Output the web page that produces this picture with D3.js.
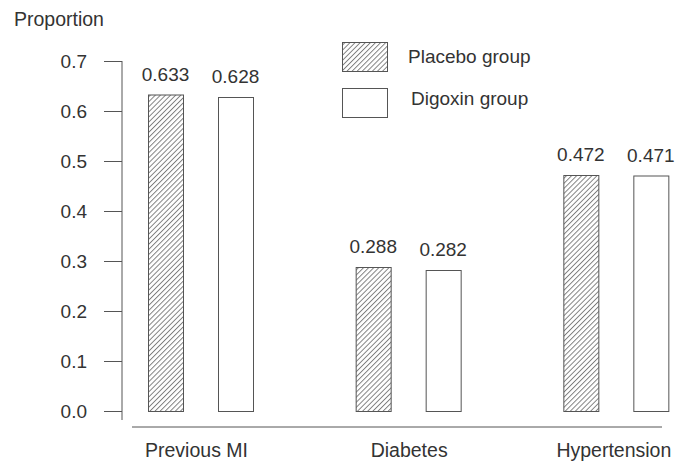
<!DOCTYPE html>
<html><head><meta charset="utf-8">
<script src="https://cdn.jsdelivr.net/npm/d3@7"></script>
<style>body{margin:0;background:#fff}svg{display:block}text{font-family:"Liberation Sans",Arial,sans-serif;fill:#333}</style>
</head><body><svg id="c" width="676" height="462"></svg>
<script>
const categories = ["Previous MI", "Diabetes", "Hypertension"];
const seriesNames = ["Placebo group", "Digoxin group"];
const placebo = [0.633, 0.288, 0.472];
const digoxin = [0.628, 0.282, 0.471];
const yTicks = [0.0, 0.1, 0.2, 0.3, 0.4, 0.5, 0.6, 0.7];

const FS = 19;
const svg = d3.select("#c");
const defs = svg.append("defs");
const ps = 3.6;
const pat = defs.append("pattern").attr("id","hatch").attr("patternUnits","userSpaceOnUse")
  .attr("width",ps).attr("height",ps).attr("patternTransform","rotate(45)");
pat.append("rect").attr("width",ps).attr("height",ps).attr("fill","#fff");
pat.append("line").attr("x1",0.5).attr("y1",0).attr("x2",0.5).attr("y2",ps).attr("stroke","#777").attr("stroke-width",0.9);

const y = d3.scaleLinear().domain([0,0.7]).range([411,61]);
const x0 = d3.scaleBand().domain(categories).range([96,719]).paddingInner(0).paddingOuter(0);
const x1 = d3.scaleBand().domain(seriesNames).range([0, 105]).paddingInner(0.5);

// y axis
const yAxis = svg.append("g").attr("transform","translate(122,0)")
  .call(d3.axisLeft(y).tickValues(yTicks).tickFormat(d3.format(".1f")).tickSize(18).tickPadding(17));
yAxis.select(".domain").remove();
yAxis.selectAll(".tick line").attr("stroke","#555");
yAxis.selectAll(".tick text").attr("font-size",FS).attr("font-family",null).style("fill","#333");
svg.append("line").attr("x1",122).attr("x2",122).attr("y1",61).attr("y2",420).attr("stroke","#555");

// x axis line
svg.append("line").attr("x1",132).attr("x2",662).attr("y1",427).attr("y2",427).attr("stroke","#555");

const data = categories.map((c,i)=>({cat:c, vals:[placebo[i], digoxin[i]]}));
const groups = svg.selectAll("g.grp").data(data).join("g").attr("class","grp")
  .attr("transform", d=>`translate(${x0(d.cat)+52},0)`);
groups.selectAll("rect").data(d=>d.vals.map((v,j)=>({v, s:seriesNames[j]}))).join("rect")
  .attr("x", d=>x1(d.s)+0.5).attr("width", x1.bandwidth())
  .attr("y", d=>y(d.v)+0.5).attr("height", d=>y(0)-y(d.v))
  .attr("fill", d=>d.s===seriesNames[0]?"url(#hatch)":"#fff")
  .attr("stroke","#555").attr("stroke-width",1);
groups.selectAll("text.val").data(d=>d.vals.map((v,j)=>({v, s:seriesNames[j]}))).join("text")
  .attr("class","val").attr("x", d=>x1(d.s)+x1.bandwidth()/2).attr("y", d=>y(d.v)-14)
  .attr("text-anchor","middle").attr("font-size",FS).text(d=>d3.format(".3f")(d.v));

// category labels
const catOffset = [-4, 1, -2];
svg.selectAll("text.cat").data(categories).join("text").attr("class","cat")
  .attr("x", (d,i)=>x0(d)+52+52.5+catOffset[i]).attr("y",457).attr("text-anchor","middle")
  .attr("font-size",FS+0.5).text(d=>d);

// y title
svg.append("text").attr("x",14).attr("y",26).attr("font-size",FS+0.5).text("Proportion");

// legend
const leg = svg.append("g");
seriesNames.forEach((s,i)=>{
  leg.append("rect").attr("x",342.5).attr("y",42.5+i*46).attr("width",45).attr("height",29)
    .attr("fill", i===0?"url(#hatch)":"#fff").attr("stroke","#555");
  leg.append("text").attr("x",408+i*3).attr("y",63+i*42).attr("font-size",FS).text(s);
});
</script></body></html>
